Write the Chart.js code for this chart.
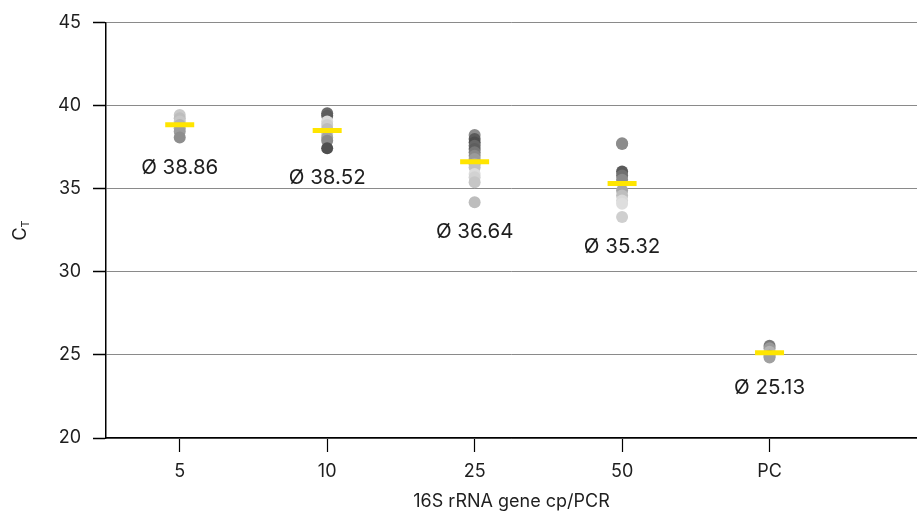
<!DOCTYPE html>
<html>
<head>
<meta charset="utf-8">
<script src="https://cdn.jsdelivr.net/npm/chart.js@4.4.1/dist/chart.umd.min.js"></script>
<style>
  body { margin: 0; background: #fff; }
  #wrap { width: 917px; height: 516px; }
</style>
</head>
<body>
<div id="wrap"><canvas id="myChart"></canvas></div>
<script>
// categories on the x axis
var categories = ['5', '10', '25', '50', 'PC'];

// single Ct values per dilution
var ct5 = [39.45, 39.25, 39.05, 38.85, 38.65, 38.45, 38.1];
var ct10 = [39.55, 39.4, 39.05, 38.85, 38.6, 38.3, 38.1, 37.9, 37.45];
var ct25 = [38.25, 38.0, 37.8, 37.6, 37.4, 37.2, 37.0, 36.8, 36.5, 36.3, 35.9, 35.7, 35.4, 34.2];
var ct50 = [37.75, 37.7, 36.05, 35.8, 35.55, 34.9, 34.6, 34.3, 34.1, 33.3];
var ctPC = [25.55, 25.4, 25.2, 24.95, 24.85];

// mean values shown with the yellow bars
var means = [38.86, 38.52, 36.64, 35.32, 25.13];

// y axis ticks
var yTicks = [20, 25, 30, 35, 40, 45];

// gray shades for the dots, one per point
var shades5 = ['#c9c9c9', '#bdbdbd', '#c6c6c6', '#b3b3b3', '#a8a8a8', '#9c9c9c', '#8e8e8e'];
var shades10 = ['#6a6a6a', '#5c5c5c', '#d9d9d9', '#cdcdcd', '#bcbcbc', '#c8c8c8', '#a4a4a4', '#8a8a8a', '#4f4f4f'];
var shades25 = ['#8c8c8c', '#5a5a5a', '#4d4d4d', '#666666', '#5e5e5e', '#777777', '#888888', '#9a9a9a', '#aaaaaa', '#c2c2c2', '#dcdcdc', '#d2d2d2', '#c6c6c6', '#bdbdbd'];
var shades50 = ['#8c8c8c', '#8c8c8c', '#5a5a5a', '#707070', '#8a8a8a', '#a6a6a6', '#bebebe', '#d8d8d8', '#dedede', '#cfcfcf'];
var shadesPC = ['#7a7a7a', '#9a9a9a', '#b4b4b4', '#8c8c8c', '#a0a0a0'];

var groups = [ct5, ct10, ct25, ct50, ctPC];
var shades = [shades5, shades10, shades25, shades50, shadesPC];

var FONT = 'Inter, "Open Sans", sans-serif';
var TEXT = '#1e1e1e';

var points = [];
var pointColors = [];
groups.forEach(function (g, i) {
    g.forEach(function (v, j) {
        points.push({ x: i, y: v });
        pointColors.push(shades[i][j]);
    });
});

var meanPoints = means.map(function (m, i) { return { x: i, y: m }; });

// "Ø 38.86" labels below each group, and the C_T axis title
var labelPlugin = {
    id: 'labelPlugin',
    afterDatasetsDraw: function (chart) {
        var ctx = chart.ctx;
        var xs = chart.scales.x, ys = chart.scales.y;
        ctx.save();
        ctx.fillStyle = TEXT;
        ctx.font = '20.5px ' + FONT;
        ctx.textAlign = 'center';
        ctx.textBaseline = 'middle';
        groups.forEach(function (g, i) {
            var lo = Math.min.apply(null, g);
            var px = xs.getPixelForValue(i);
            var py = ys.getPixelForValue(lo) + 30;
            ctx.fillText('\u00D8 ' + means[i].toFixed(2), px, py);
        });
        // y title with subscript
        var cy = (chart.chartArea.top + chart.chartArea.bottom) / 2;
        ctx.translate(21, cy);
        ctx.rotate(-Math.PI / 2);
        ctx.textAlign = 'left';
        ctx.textBaseline = 'middle';
        ctx.font = '18px ' + FONT;
        var w = ctx.measureText('C').width;
        ctx.font = '11px ' + FONT;
        var w2 = ctx.measureText('T').width;
        var start = -(w + w2) / 2;
        ctx.font = '18px ' + FONT;
        ctx.fillText('C', start, 0);
        ctx.font = '11px ' + FONT;
        ctx.fillText('T', start + w, 5);
        ctx.restore();
    }
};

const ctx = document.getElementById('myChart').getContext('2d');
const myChart = new Chart(ctx, {
    type: 'scatter',
    data: {
        datasets: [{
            label: 'mean',
            data: meanPoints,
            pointStyle: 'line',
            pointRadius: 14.5,
            pointHoverRadius: 14.5,
            borderColor: '#ffe500',
            borderWidth: 5,
            backgroundColor: '#ffe500'
        }, {
            label: 'CT',
            data: points,
            pointRadius: 6,
            pointHoverRadius: 6,
            backgroundColor: pointColors,
            borderWidth: 0
        }]
    },
    options: {
        responsive: true,
        maintainAspectRatio: false,
        animation: false,
        events: [],
        layout: {
            autoPadding: false,
            padding: { top: 21, right: 0, left: 0, bottom: 0 }
        },
        plugins: {
            legend: { display: false },
            tooltip: { enabled: false }
        },
        scales: {
            x: {
                type: 'linear',
                min: -0.5,
                max: 5,
                afterBuildTicks: function (scale) {
                    scale.ticks = categories.map(function (c, i) { return { value: i }; });
                },
                afterFit: function (scale) {
                    scale.height = 78;
                    scale.paddingLeft = 0;
                    scale.paddingRight = 0;
                },
                ticks: {
                    autoSkip: false,
                    maxRotation: 0,
                    padding: 9,
                    color: TEXT,
                    font: { family: FONT, size: 18 },
                    callback: function (v) { return categories[v]; }
                },
                grid: {
                    drawOnChartArea: false,
                    tickLength: 14,
                    tickColor: '#000',
                    tickWidth: 1.2
                },
                border: { color: '#000', width: 1.5 },
                title: {
                    display: true,
                    text: '16S rRNA gene cp/PCR',
                    color: TEXT,
                    font: { family: FONT, size: 18 },
                    padding: { top: 0, bottom: 4 }
                }
            },
            y: {
                min: 20,
                max: 45,
                afterBuildTicks: function (scale) {
                    scale.ticks = yTicks.map(function (v) { return { value: v }; });
                },
                afterFit: function (scale) { scale.width = 106; },
                ticks: {
                    padding: 12,
                    color: TEXT,
                    font: { family: FONT, size: 18 }
                },
                grid: {
                    color: '#8a8a8a',
                    lineWidth: 1,
                    tickLength: 13,
                    tickColor: '#000',
                    tickWidth: 1.5
                },
                border: { color: '#000', width: 1.5 }
            }
        }
    },
    plugins: [labelPlugin]
});
</script>
</body>
</html>
